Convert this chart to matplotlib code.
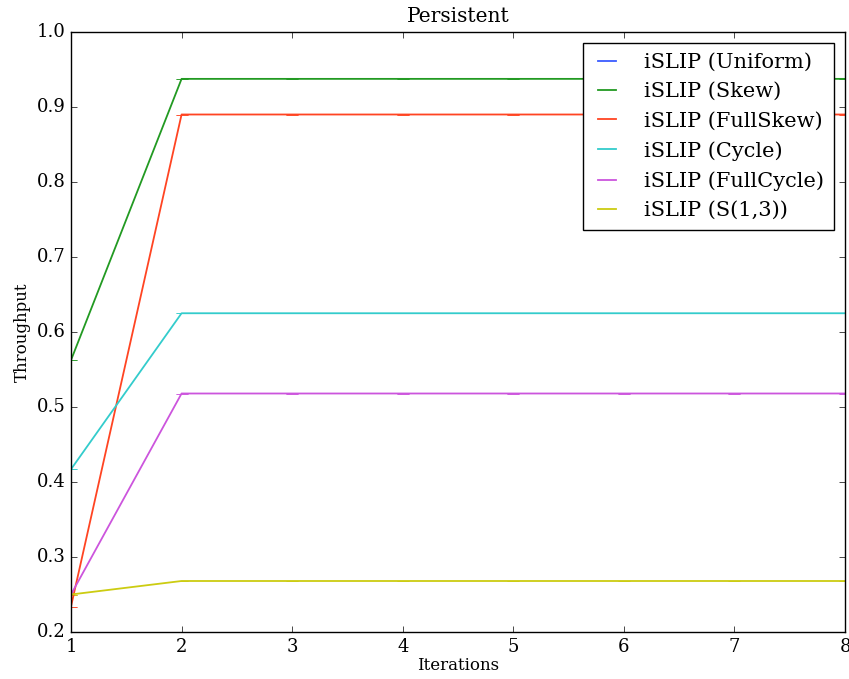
#!/usr/bin/env python3
"""Throughput vs iterations for iSLIP under persistent traffic."""

import numpy as np
import matplotlib
matplotlib.use('Agg')
import matplotlib.pyplot as plt
from matplotlib.lines import Line2D

iterations = [1, 2, 3, 4, 5, 6, 7, 8]

labels = ['iSLIP (Uniform)', 'iSLIP (Skew)', 'iSLIP (FullSkew)',
          'iSLIP (Cycle)', 'iSLIP (FullCycle)', 'iSLIP (S(1,3))']

uniform = [1.0, 1.0, 1.0, 1.0, 1.0, 1.0, 1.0, 1.0]
skew = [0.5625, 0.9375, 0.9375, 0.9375, 0.9375, 0.9375, 0.9375, 0.9375]
full_skew = [0.234, 0.89, 0.89, 0.89, 0.89, 0.89, 0.89, 0.89]
cycle = [0.417, 0.625, 0.625, 0.625, 0.625, 0.625, 0.625, 0.625]
full_cycle = [0.25, 0.518, 0.518, 0.518, 0.518, 0.518, 0.518, 0.518]
s13 = [0.25, 0.268, 0.268, 0.268, 0.268, 0.268, 0.268, 0.268]

colors = ['#3a5cff', '#229a22', '#ff4422', '#33cccc', '#cc55dd', '#cccc11']

plt.style.use('classic')
plt.rcParams['font.family'] = 'DejaVu Serif'

fig = plt.figure(figsize=(8.49, 6.79), dpi=100)
ax = fig.add_axes([71 / 849, 47 / 679, 774 / 849, 600 / 679])

series = [uniform, skew, full_skew, cycle, full_cycle, s13]
handles = []
for vals, lab, col in zip(series, labels, colors):
    ax.errorbar(iterations, vals, yerr=np.zeros(len(vals)), color=col,
                ecolor=col, capsize=4, linewidth=1.3)
    handles.append(Line2D([], [], color=col, linewidth=1.3, label=lab))

ax.set_xlim(1, 8)
ax.set_ylim(0.2, 1.0)
ax.set_xticks(iterations)
ax.set_yticks([0.2, 0.3, 0.4, 0.5, 0.6, 0.7, 0.8, 0.9, 1.0])
ax.tick_params(labelsize=13)
ax.set_title('Persistent', fontsize=14.5, pad=7)
ax.set_xlabel('Iterations', fontsize=12, labelpad=1)
ax.set_ylabel('Throughput', fontsize=12, labelpad=4)

ax.legend(handles=handles, loc='upper right', fontsize=15,
          handlelength=1.45, handletextpad=1.05, borderaxespad=0.55,
          labelspacing=0.5, borderpad=0.45)

fig.savefig('out.png', dpi=100)
